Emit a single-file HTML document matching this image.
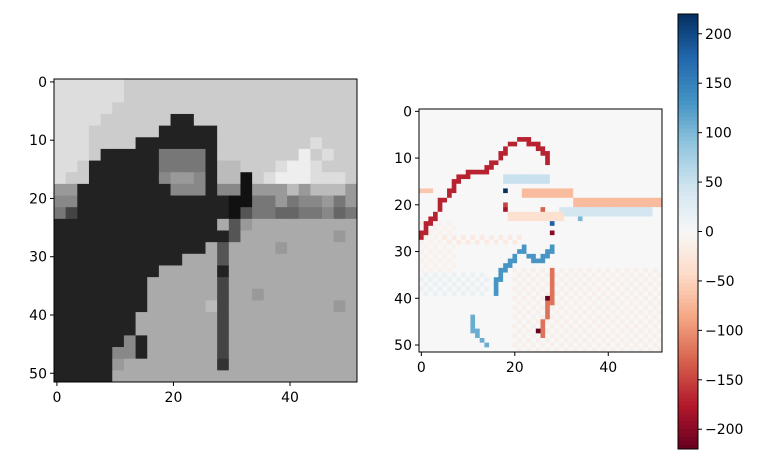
<!DOCTYPE html>
<html><head><meta charset="utf-8"><style>
body{margin:0;background:#fff;}
svg{display:block;font-family:"DejaVu Sans","Liberation Sans",sans-serif;}
</style></head><body>
<svg id="fig" width="782" height="463" viewBox="0 0 782 463">
<g id="left"></g>
<g id="right"></g>
<g id="cbar"></g>
</svg>
<script>
// Left image: coarse 26x26 gray levels (hex 0-f), each cell = 2x2 source pixels
const grayRows = [
"ddddddcccccccccccccccccccc",
"ddddddcccccccccccccccccccc",
"dddddccccccccccccccccccccc",
"ddddcccccc22cccccccccccccc",
"dddcccccc22222cccccccccccc",
"dddcccc2222222ccccccccdccc",
"dddc2222277772cccccccecdcc",
"ddc22222277772bbcccdeedccc",
"dcc22222289982bb1cdeeedddc",
"99222222228882881999b9bbb9",
"88222222222222211779788979",
"74222222222222215776677867",
"22222222222222a59aaaaaaaaa",
"2222222222222225aaaaaaaa9a",
"2222222222222a5aaaa9aaaaaa",
"22222222222aaa5aaaaaaaaaaa",
"222222222aaaaa2aaaaaaaaaaa",
"22222222aaaaaa4aaaaaaaaaaa",
"22222222aaaaaa4aa9aaaaaaaa",
"22222222aaaaab4aaaaaaaaa9a",
"2222222aaaaaaa4aaaaaaaaaaa",
"2222222aaaaaaa4aaaaaaaaaaa",
"22222282aaaaaa4aaaaaaaaaaa",
"22222882aaaaaa4aaaaaaaaaaa",
"222229aaaaaaaa3aaaaaaaaaaa",
"22222aaaaaaaaaaaaaaaaaaaaa"];
// Right heatmap features (grid 52x52, value range -220..220)
const redCurveCols = [0,1,2.4,3.4,4.4,5.4,6.3,7.6,8.4,9.9,12,14,14.9,16.3,17.4,18.4,19.5,20.6,22,23,24.5,25.6,26.6,26.6];
const redCurveRows = [26.6,25,23.4,21.6,19.4,18.7,17,15,14,13.4,12.6,12.6,11.6,10.5,9.4,7.6,6.9,6.4,6,6.6,7.3,8.4,9.4,10.5];
const redCurveValue = -170;
const blueCurveCols = [15.6,15.6,17,18.4,19.9,21.6,22.7,24.9,27,28.4];
const blueCurveRows = [38.7,37.3,35,33.4,31.2,29.4,30.5,32.3,30.9,29.4];
const blueCurveValue = 130;
const diagCols = [28.4,27.7,26.6,25.6];
const diagRows = [33.7,40.5,44,48];
const diagValue = -120;
const lowBlueCols = [10.6,11.3,12.4,13.8];
const lowBlueRows = [44.4,46.6,48.4,49.8];
const lowBlueValue = 110;
const patchC0 = [20,0,0,5,0,33,22,18,30,19];
const patchR0 = [34,24,17,27,35,19,17,14,21,22];
const patchC1 = [52,8,3,22,15,52,33,28,50,31];
const patchR1 = [52,35,18,29,40,21,19,16,23,24];
const patchV  = [-12,-10,-60,-20,15,-70,-70,50,40,-35];
const spotC = [18,28,28,18,25,27,34,18,26];
const spotR = [17,24,26,21,47,40,23,20,21];
const spotV = [220,180,-200,-180,-220,-220,100,-150,-130];
const cbTicks = [200,150,100,50,0,-50,-100,-150,-200];
const imgTicks = [0,10,20,30,40,50];
const imgXTicks = [0,20,40];

const NS="http://www.w3.org/2000/svg";
function mk(tag,attrs,parent){const e=document.createElementNS(NS,tag);for(const k in attrs)e.setAttribute(k,attrs[k]);parent.appendChild(e);return e;}

const N=52;
function axes(g,x0,y0,size,label){
  const s=size/N;
  const px=i=>x0+(i+0.5)*s;
  const py=i=>y0+(i+0.5)*s;
  for(const t of imgTicks){
    const y=py(t);
    const l=mk('line',{x1:x0-4,x2:x0,y1:y,y2:y,stroke:'#000','stroke-width':1},g);
    
    
    const tx=mk('text',{x:x0-7,y:y+5,'text-anchor':'end','font-size':14,fill:'#000'},g);
    tx.textContent=t;
    
    
  }
  for(const t of imgXTicks){
    const x=px(t);
    const l=mk('line',{x1:x,x2:x,y1:y0+size,y2:y0+size+4,stroke:'#000','stroke-width':1},g);
    
    
    const tx=mk('text',{x:x,y:y0+size+20,'text-anchor':'middle','font-size':14,fill:'#000'},g);
    tx.textContent=t;
    
    
  }
  const f=mk('rect',{x:x0,y:y0,width:size,height:size,fill:'none',stroke:'#000','stroke-width':1},g);
  
  
}

// Left
(function(){
  const g=document.getElementById('left');
  const x0=54,y0=79,size=303,s=size/26;
  grayRows.forEach((row,r)=>{
    for(let c=0;c<26;c++){
      const ch=row[c]||'a';
      const v=parseInt(ch,16)*17;
      const rc=mk('rect',{x:(x0+c*s).toFixed(2),y:(y0+r*s).toFixed(2),width:(s+0.4).toFixed(2),height:(s+0.4).toFixed(2),fill:`rgb(${v},${v},${v})`},g);
      
      
    }
  });
  axes(g,x0,y0,size,'left-axes');
})();

// Colormap RdBu
const stops=[[103,0,31],[178,24,43],[214,96,77],[244,165,130],[253,219,199],[247,247,247],[209,229,240],[146,197,222],[67,147,195],[33,102,172],[5,48,97]];
const VMIN=-220,VMAX=220;
function cmap(v){let t=(v-VMIN)/(VMAX-VMIN);t=Math.max(0,Math.min(1,t))*10;const i=Math.min(9,Math.floor(t)),f=t-i;const a=stops[i],b=stops[i+1];return `rgb(${a.map((x,k)=>Math.round(x+(b[k]-x)*f)).join(',')})`;}

// Right
(function(){
  const g=document.getElementById('right');
  const x0=419,y0=109,size=243,s=size/N;
  const grid=[];for(let r=0;r<N;r++){grid.push(new Array(N).fill(0));}
  function set(c,r,v){c=Math.round(c);r=Math.round(r);if(c>=0&&c<N&&r>=0&&r<N)grid[r][c]=v;}
  for(let i=0;i<patchV.length;i++)for(let r=patchR0[i];r<patchR1[i];r++)for(let c=patchC0[i];c<patchC1[i];c++)if((r+c)%2===0||Math.abs(patchV[i])>30)set(c,r,patchV[i]);
  function poly(cs,rs,v){for(let i=0;i<cs.length-1;i++){const n=Math.ceil(Math.hypot(cs[i+1]-cs[i],rs[i+1]-rs[i])*2)+1;for(let k=0;k<=n;k++){set(cs[i]+(cs[i+1]-cs[i])*k/n,rs[i]+(rs[i+1]-rs[i])*k/n,v);}}}
  poly(redCurveCols,redCurveRows,redCurveValue);
  poly(blueCurveCols,blueCurveRows,blueCurveValue);
  poly(diagCols,diagRows,diagValue);
  poly(lowBlueCols,lowBlueRows,lowBlueValue);
  for(let i=0;i<spotV.length;i++)set(spotC[i],spotR[i],spotV[i]);
  for(let r=0;r<N;r++)for(let c=0;c<N;c++){
    const rc=mk('rect',{x:(x0+c*s).toFixed(2),y:(y0+r*s).toFixed(2),width:(s+0.3).toFixed(2),height:(s+0.3).toFixed(2),fill:cmap(grid[r][c])},g);
    
    
  }
  axes(g,x0,y0,size,'right-axes');
})();

// Colorbar
(function(){
  const g=document.getElementById('cbar');
  const x0=678,w=20,yTop=14,yBot=449;
  const y=v=>yTop+(VMAX-v)/(VMAX-VMIN)*(yBot-yTop);
  const steps=110;
  for(let i=0;i<steps;i++){
    const v=VMAX-(i+0.5)*(VMAX-VMIN)/steps;
    const rc=mk('rect',{x:x0,y:(yTop+i*(yBot-yTop)/steps).toFixed(2),width:w,height:((yBot-yTop)/steps+0.5).toFixed(2),fill:cmap(v)},g);
    
    
  }
  const f=mk('rect',{x:x0,y:yTop,width:w,height:yBot-yTop,fill:'none',stroke:'#000','stroke-width':1},g);
  
  
  for(const t of cbTicks){
    const yy=y(t);
    const l=mk('line',{x1:x0+w,x2:x0+w+4,y1:yy,y2:yy,stroke:'#000','stroke-width':1},g);
    
    
    const tx=mk('text',{x:x0+w+7,y:yy+5,'font-size':14,fill:'#000'},g);
    tx.textContent=t<0?'\u2212'+(-t):String(t);
    
    
  }
})();
</script>
</body></html>
